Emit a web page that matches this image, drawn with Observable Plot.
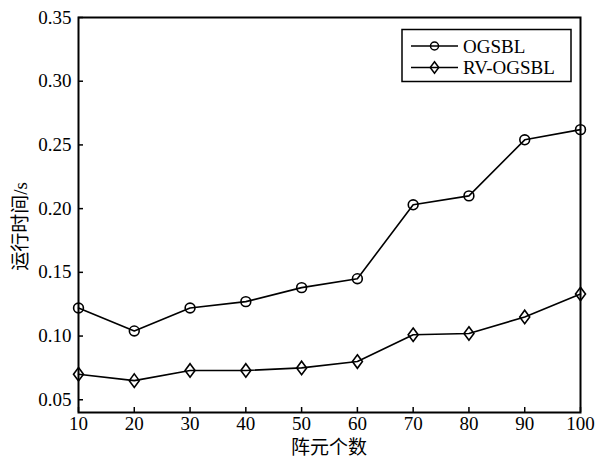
<!DOCTYPE html>
<html>
<head>
<meta charset="utf-8">
<script src="https://cdn.jsdelivr.net/npm/d3@7"></script>
<script src="https://cdn.jsdelivr.net/npm/@observablehq/plot@0.6"></script>
<style>
  html, body { margin: 0; padding: 0; background: #fff; }
  #chart { position: relative; width: 602px; height: 460px; }
  #chart svg, #chart svg text { font-family: "Liberation Serif", "Noto Sans CJK SC", serif !important; }
</style>
</head>
<body>
<div id="chart"></div>
<script>
// ---- data ----
const elements = [10, 20, 30, 40, 50, 60, 70, 80, 90, 100];
const ogsbl   = [0.122, 0.104, 0.122, 0.127, 0.138, 0.145, 0.203, 0.210, 0.254, 0.262];
const rvOgsbl = [0.070, 0.065, 0.073, 0.073, 0.075, 0.080, 0.101, 0.102, 0.115, 0.133];
const seriesNames = ["OGSBL", "RV-OGSBL"];
const xTicks = [10, 20, 30, 40, 50, 60, 70, 80, 90, 100];
const yTicks = [0.05, 0.10, 0.15, 0.20, 0.25, 0.30, 0.35];
const xLabel = "阵元个数";
const yLabel = "运行时间/s";

// ---- layout ----
const W = 602, H = 460;
const mL = 78, mR = 22, mT = 17, mB = 48;
const innerW = W - mL - mR, innerH = H - mT - mB;
const tickLen = 5;

const diamond = {
  draw(context, size) {
    const r = Math.sqrt(size / Math.PI);
    const w = r * 1.0, h = r * 1.35;
    context.moveTo(0, -h);
    context.lineTo(w, 0);
    context.lineTo(0, h);
    context.lineTo(-w, 0);
    context.closePath();
  }
};

const rows1 = elements.map((x, i) => ({x, y: ogsbl[i]}));
const rows2 = elements.map((x, i) => ({x, y: rvOgsbl[i]}));

const plot = Plot.plot({
  width: W,
  height: H,
  marginLeft: mL, marginRight: mR, marginTop: mT, marginBottom: mB,
  style: {fontSize: "19px", color: "#000", background: "#fff"},
  x: {domain: [10, 100]},
  y: {domain: [0.04, 0.35]},
  marks: [
    Plot.axisX({ticks: xTicks, tickSize: 0, tickPadding: 4, label: null, tickFormat: d3.format("d")}),
    Plot.axisY({ticks: yTicks, tickSize: 0, tickPadding: 7, label: null, tickFormat: d3.format(".2f")}),
    Plot.tickX(xTicks, {x: d => d, insetTop: innerH - tickLen, stroke: "#000", strokeWidth: 1.5}),
    Plot.tickY(yTicks, {y: d => d, insetRight: innerW - tickLen, stroke: "#000", strokeWidth: 1.5}),
    Plot.line(rows1, {x: "x", y: "y", stroke: "#000", strokeWidth: 1.6}),
    Plot.dot(rows1, {x: "x", y: "y", r: 4.9, symbol: "circle", stroke: "#000", strokeWidth: 1.6, fill: "none"}),
    Plot.line(rows2, {x: "x", y: "y", stroke: "#000", strokeWidth: 1.6}),
    Plot.dot(rows2, {x: "x", y: "y", r: 5, symbol: diamond, stroke: "#000", strokeWidth: 1.6, fill: "none"}),
    Plot.frame({stroke: "#000", strokeWidth: 2})
  ]
});

document.getElementById("chart").appendChild(plot);

// axis titles and legend
const svg = d3.select(plot);
svg.append("text")
  .attr("x", mL + innerW / 2).attr("y", H - 6)
  .attr("text-anchor", "middle")
  .style("font-size", "19px")
  .text(xLabel);
svg.append("text")
  .attr("transform", `translate(27, ${mT + innerH / 2 + 12}) rotate(-90)`)
  .attr("text-anchor", "middle")
  .style("font-size", "19px")
  .text(yLabel);

// legend
const lg = svg.append("g").attr("transform", "translate(402, 29.5)");
lg.append("rect").attr("width", 169).attr("height", 52)
  .attr("fill", "#fff").attr("stroke", "#000").attr("stroke-width", 1.5);
const syms = [d3.symbol(d3.symbolCircle, Math.PI * 4.0 * 4.0), d3.symbol(diamond, Math.PI * 4.3 * 4.3)];
seriesNames.forEach((name, i) => {
  const cy = 16.5 + i * 21.5;
  lg.append("line").attr("x1", 9).attr("x2", 56).attr("y1", cy).attr("y2", cy)
    .attr("stroke", "#000").attr("stroke-width", 1.6);
  lg.append("path").attr("d", syms[i]()).attr("transform", `translate(32.5, ${cy})`)
    .attr("fill", "none").attr("stroke", "#000").attr("stroke-width", 1.5);
  lg.append("text").attr("x", 61).attr("y", cy + 6.5)
    .attr("text-anchor", "start")
    .style("font-size", "19px")
    .text(name);
});
</script>
</body>
</html>
